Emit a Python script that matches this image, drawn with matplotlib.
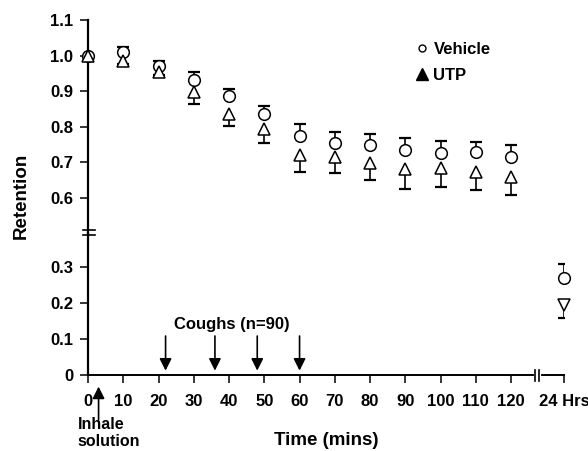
import matplotlib
matplotlib.use("Agg")
import matplotlib.pyplot as plt
from matplotlib.lines import Line2D
import numpy as np

plt.rcParams['font.family'] = ['Liberation Sans', 'DejaVu Sans']
plt.rcParams['font.weight'] = 'bold'

# Retention after inhalation, mean with one-sided SEM bars
time_min = [0, 10, 20, 30, 40, 50, 60, 70, 80, 90, 100, 110, 120]
vehicle = [1.0, 1.01, 0.97, 0.93, 0.886, 0.837, 0.775, 0.755, 0.748, 0.734, 0.727, 0.728, 0.714]
vehicle_err = [0.0, 0.015, 0.015, 0.025, 0.02, 0.022, 0.033, 0.031, 0.033, 0.033, 0.032, 0.029, 0.034]
utp = [1.0, 0.985, 0.955, 0.897, 0.837, 0.794, 0.722, 0.714, 0.698, 0.680, 0.684, 0.672, 0.658]
utp_err = [0.0, 0.01, 0.01, 0.032, 0.034, 0.041, 0.049, 0.045, 0.049, 0.054, 0.054, 0.051, 0.051]

# 24 h values (plotted after the axis break)
vehicle_24h = 0.268
vehicle_24h_err = 0.039
utp_24h = 0.194
utp_24h_err = 0.037
X_24H = 135  # where the 24 h point sits on the time axis

inhale_time = 3
cough_times = [22, 36, 48, 60]

xticks = [0, 10, 20, 30, 40, 50, 60, 70, 80, 90, 100, 110, 120, X_24H]
xticklabels = ['0', '10', '20', '30', '40', '50', '60', '70', '80', '90', '100', '110', '120', '24 Hrs']
yticks_top = [0.6, 0.7, 0.8, 0.9, 1.0, 1.1]
yticks_bot = [0, 0.1, 0.2, 0.3]
yticklabels_bot = ['0', '0.1', '0.2', '0.3']

W, H = 588, 451
fig = plt.figure(figsize=(W / 100, H / 100), dpi=100)

left, right = 88 / W, 564 / W
y_top, y_brk, y_bot = 20, 232.5, 375
ax_top = fig.add_axes([left, 1 - y_brk / H, right - left, (y_brk - y_top) / H])
ax_bot = fig.add_axes([left, 1 - y_bot / H, right - left, (y_bot - y_brk) / H], sharex=ax_top)

ax_top.set_ylim(0.5028, 1.1)
ax_bot.set_ylim(0, 0.3947)
ax_bot.set_xlim(0, X_24H)

TS = 12
for ax in (ax_top, ax_bot):
    for s in ('top', 'right'):
        ax.spines[s].set_visible(False)
    ax.spines['left'].set_linewidth(1.6)
    ax.tick_params(axis='both', direction='out', length=5.5, width=1.1,
                   labelsize=TS, pad=5)
    ax.patch.set_alpha(0)
ax_top.spines['bottom'].set_visible(False)
ax_top.tick_params(axis='x', bottom=False, labelbottom=False)
ax_bot.spines['bottom'].set_linewidth(1.4)
ax_bot.tick_params(axis='x', pad=8.5)

ax_top.set_yticks(yticks_top)
ax_top.set_yticklabels([f'{v:.1f}' for v in yticks_top])
ax_bot.set_yticks(yticks_bot)
ax_bot.set_yticklabels(yticklabels_bot)
ax_bot.set_xticks(xticks)
ax_bot.set_xticklabels(xticklabels)


def draw_series(ax, x, y, err, up, marker, ms):
    x = np.atleast_1d(x)
    y = np.atleast_1d(np.asarray(y, dtype=float))
    err = np.atleast_1d(np.asarray(err, dtype=float))
    end = y + err if up else y - err
    ax.vlines(x, y, end, color='k', lw=1.2, zorder=2)
    ax.plot(x, end, ls='none', marker='_', ms=8.6, mew=1.6, color='k', zorder=2)
    ax.plot(x, y, ls='none', marker=marker, ms=ms, mfc='white', mec='k',
            mew=1.1, zorder=3, clip_on=False)


draw_series(ax_top, time_min, vehicle, vehicle_err, True, 'o', 8.4)
draw_series(ax_top, time_min, utp, utp_err, False, '^', 8)
draw_series(ax_bot, X_24H, vehicle_24h, vehicle_24h_err, True, 'o', 8.4)
draw_series(ax_bot, X_24H, utp_24h, utp_24h_err, False, 'v', 8)

# legend
handles = [Line2D([], [], ls='none', marker='o', ms=5, mfc='white', mec='k', mew=1),
           Line2D([], [], ls='none', marker='^', ms=9, color='k')]
ax_top.legend(handles, ['Vehicle', 'UTP'], loc='upper left',
              bbox_to_anchor=(416 / W, 1 - 42 / H), bbox_transform=fig.transFigure,
              frameon=False, fontsize=TS, handlelength=0.75, handletextpad=0.3,
              borderpad=0, borderaxespad=0, labelspacing=0.68)

# arrows
arrow = dict(arrowstyle='-|>,head_length=0.6,head_width=0.3', color='k', lw=1.2,
             mutation_scale=12, shrinkA=0, shrinkB=0)
for tc in cough_times:
    ax_bot.annotate('', xy=(tc, 0.012), xytext=(tc, 0.108), arrowprops=arrow,
                    annotation_clip=False)
ax_bot.text(40.9, 0.127, 'Coughs (n=90)', ha='center', va='baseline', fontsize=TS)
ax_bot.annotate('', xy=(inhale_time, -0.032), xytext=(inhale_time, -0.125),
                arrowprops=arrow, annotation_clip=False)
# baseline of the last line ("solution")
ax_bot.text(-2.9, -0.197, 'Inhale\nsolution', ha='left', va='baseline',
            fontsize=11.5, linespacing=1.2)

ax_bot.set_xlabel('Time (mins)', fontsize=13.5, fontweight='bold', labelpad=16)
fig.text(21.7 / W, 1 - 196 / H, 'Retention', rotation=90, ha='center', va='center',
         fontsize=13.5, fontweight='bold')

# y-axis break marks
for yy in (230, 235):
    fig.add_artist(Line2D([83 / W, 95 / W], [1 - yy / H] * 2, color='k', lw=1.2))
# x-axis break marks
fig.add_artist(Line2D([535.5 / W, 538.5 / W], [1 - y_bot / H] * 2, color='white', lw=3))
for xx in (535, 539):
    fig.add_artist(Line2D([xx / W] * 2, [1 - 370 / H, 1 - 381 / H], color='k', lw=1.2))

fig.savefig('out.png', dpi=100)
